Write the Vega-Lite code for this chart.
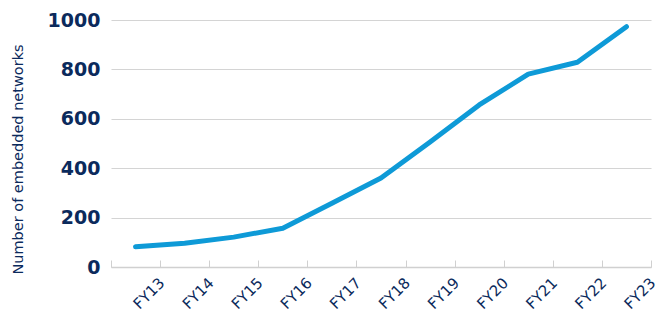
{
  "$schema": "https://vega.github.io/schema/vega-lite/v6.json",
  "autosize": "none",
  "width": 540,
  "height": 247,
  "padding": {"left": 111, "top": 20, "right": 19, "bottom": 56},
  "background": "white",
  "config": {"view": {"stroke": null}, "font": "DejaVu Sans"},
  "data": {"values": [
    {"year": "FY13", "networks": 82},
    {"year": "FY14", "networks": 96},
    {"year": "FY15", "networks": 121},
    {"year": "FY16", "networks": 157},
    {"year": "FY17", "networks": 258},
    {"year": "FY18", "networks": 360},
    {"year": "FY19", "networks": 506},
    {"year": "FY20", "networks": 656},
    {"year": "FY21", "networks": 781},
    {"year": "FY22", "networks": 829},
    {"year": "FY23", "networks": 973}
  ]},
  "mark": {"type": "line", "color": "#0e9ad7", "strokeWidth": 5, "strokeCap": "round", "strokeJoin": "round"},
  "encoding": {
    "x": {
      "field": "year", "type": "ordinal", "bandPosition": 0.5,
      "scale": {"type": "band", "paddingInner": 0, "paddingOuter": 0},
      "axis": {
        "title": null, "tickBand": "extent", "tickSize": -7, "tickColor": "#d0d0d0",
        "domainColor": "#d0d0d0", "domainWidth": 1.5,
        "labelAngle": -45, "labelAlign": "center", "labelBaseline": "middle",
        "labelOffset": 13, "labelPadding": 33,
        "labelFont": "DejaVu Sans", "labelFontSize": 15, "labelColor": "#0b2a5c", "grid": false
      }
    },
    "y": {
      "field": "networks", "type": "quantitative",
      "scale": {"domain": [0, 1000]},
      "axis": {
        "values": [0, 200, 400, 600, 800, 1000], "format": "d", "domain": false, "ticks": false,
        "gridColor": "#d4d4d4", "gridWidth": 1.2,
        "labelFont": "DejaVu Sans", "labelFontWeight": "bold", "labelFontSize": 19, "labelColor": "#0b2a5c",
        "labelPadding": 11,
        "title": "Number of embedded networks", "titleFont": "DejaVu Sans", "titleFontWeight": "normal",
        "titleFontSize": 14.5, "titleColor": "#0b2a5c", "titlePadding": 22, "titleY": 139, "titleAlign": "center"
      }
    }
  }
}
